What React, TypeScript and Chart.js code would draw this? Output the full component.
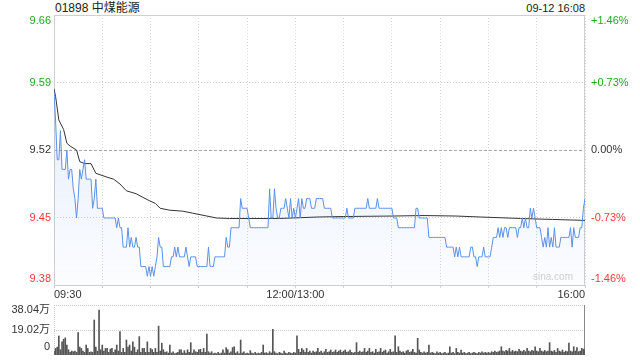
import React, { useEffect, useRef } from 'react';
import { Chart, registerables } from 'chart.js';
Chart.register(...registerables);

const stockTitle = '01898 中煤能源';
const stampText = '09-12 16:08';
const watermarkText = 'sina.com';

const priceMin = 9.381;
const priceMax = 9.659;
const priceTickValues = [9.659, 9.5895, 9.52, 9.4505, 9.381];
const priceTickLabels = ['9.66', '9.59', '9.52', '9.45', '9.38'];
const pctTickLabels = ['+1.46%', '+0.73%', '0.00%', '-0.73%', '-1.46%'];
const timeTickMinutes = [0, 150, 330];
const timeTickLabels = ['09:30', '12:00/13:00', '16:00'];
const volumeMax = 38.04;
const volumeTickValues = [38.04, 19.02, 0];
const volumeTickLabels = ['38.04万', '19.02万', '0'];

// price per minute, 09:30 .. 16:00 (330 trading minutes)
const prices = [
  9.58, 9.55, 9.51, 9.51, 9.54, 9.50, 9.50, 9.50, 9.52, 9.49,
  9.50, 9.50, 9.48, 9.47, 9.45, 9.47, 9.50, 9.49, 9.50, 9.51,
  9.49, 9.49, 9.49, 9.49, 9.46, 9.47, 9.49, 9.46, 9.46, 9.46,
  9.46, 9.45, 9.45, 9.45, 9.45, 9.45, 9.45, 9.45, 9.45, 9.44,
  9.45, 9.44, 9.44, 9.42, 9.42, 9.42, 9.44, 9.42, 9.43, 9.42,
  9.42, 9.43, 9.42, 9.42, 9.40, 9.40, 9.40, 9.40, 9.39, 9.40,
  9.39, 9.40, 9.39, 9.40, 9.41, 9.43, 9.42, 9.42, 9.40, 9.40,
  9.40, 9.40, 9.40, 9.41, 9.41, 9.42, 9.41, 9.42, 9.41, 9.41,
  9.41, 9.41, 9.42, 9.41, 9.40, 9.41, 9.41, 9.41, 9.41, 9.40,
  9.40, 9.40, 9.40, 9.40, 9.40, 9.40, 9.42, 9.40, 9.40, 9.40,
  9.41, 9.41, 9.41, 9.41, 9.41, 9.41, 9.41, 9.43, 9.42, 9.42,
  9.44, 9.44, 9.44, 9.44, 9.44, 9.44, 9.47, 9.46, 9.46, 9.46,
  9.46, 9.45, 9.44, 9.44, 9.44, 9.44, 9.44, 9.44, 9.44, 9.44,
  9.44, 9.44, 9.44, 9.44, 9.48, 9.45, 9.45, 9.48, 9.46, 9.45,
  9.45, 9.46, 9.46, 9.46, 9.47, 9.46, 9.45, 9.47, 9.45, 9.46,
  9.45, 9.46, 9.47, 9.45, 9.47, 9.46, 9.46, 9.47, 9.47, 9.47,
  9.46, 9.46, 9.46, 9.47, 9.47, 9.47, 9.47, 9.47, 9.46, 9.46,
  9.46, 9.46, 9.46, 9.45, 9.45, 9.45, 9.45, 9.45, 9.45, 9.45,
  9.45, 9.45, 9.46, 9.45, 9.45, 9.45, 9.45, 9.46, 9.46, 9.46,
  9.46, 9.46, 9.46, 9.46, 9.46, 9.47, 9.46, 9.46, 9.46, 9.46,
  9.46, 9.47, 9.46, 9.46, 9.46, 9.46, 9.46, 9.46, 9.46, 9.46,
  9.46, 9.45, 9.45, 9.45, 9.44, 9.44, 9.44, 9.44, 9.44, 9.44,
  9.44, 9.44, 9.44, 9.44, 9.44, 9.46, 9.46, 9.45, 9.45, 9.45,
  9.45, 9.45, 9.45, 9.43, 9.43, 9.43, 9.43, 9.43, 9.43, 9.43,
  9.43, 9.43, 9.43, 9.43, 9.42, 9.42, 9.42, 9.42, 9.42, 9.41,
  9.42, 9.41, 9.42, 9.41, 9.41, 9.41, 9.41, 9.41, 9.41, 9.42,
  9.42, 9.41, 9.41, 9.40, 9.41, 9.41, 9.41, 9.42, 9.41, 9.41,
  9.41, 9.41, 9.42, 9.43, 9.43, 9.43, 9.44, 9.43, 9.44, 9.43,
  9.44, 9.44, 9.43, 9.44, 9.44, 9.44, 9.44, 9.44, 9.43, 9.44,
  9.44, 9.45, 9.44, 9.45, 9.44, 9.44, 9.46, 9.45, 9.46, 9.45,
  9.44, 9.44, 9.44, 9.43, 9.42, 9.43, 9.42, 9.44, 9.42, 9.43,
  9.42, 9.44, 9.42, 9.42, 9.42, 9.43, 9.43, 9.43, 9.43, 9.43,
  9.43, 9.44, 9.42, 9.44, 9.43, 9.43, 9.43, 9.44, 9.44, 9.46,
  9.47,
];

// average price line (minute, price)
const avgMinutes = [0, 1, 3, 6, 8, 10, 14, 16, 19, 23, 26, 33, 37, 41, 45, 51, 59, 63, 66, 72, 80, 86, 95, 101, 109, 121, 140, 164, 180, 210, 230, 250, 265, 290, 310, 330];
const avgPrices = [9.583, 9.575, 9.551, 9.541, 9.527, 9.524, 9.52, 9.508, 9.506, 9.506, 9.496, 9.492, 9.49, 9.485, 9.478, 9.475, 9.468, 9.465, 9.46, 9.458, 9.457, 9.455, 9.452, 9.45, 9.4495, 9.4495, 9.4495, 9.451, 9.4515, 9.452, 9.4525, 9.452, 9.451, 9.4495, 9.4485, 9.4475];

// volume per minute (万股)
const volumes = [
  3, 5, 6, 14.5, 4, 10, 12, 13, 7.6, 4,
  2, 3, 2.5, 3, 2, 17, 6, 5, 3, 2,
  7.6, 5, 2, 2.5, 2, 26.6, 6, 3, 34.2, 4,
  7.6, 3, 5, 5, 2, 4.5, 5, 2, 4, 7.6,
  3, 17.8, 2, 5, 2, 11.4, 6, 7.6, 3, 10,
  6, 2, 4, 14, 2, 5, 5, 2, 10, 2,
  5, 4.2, 2, 5, 2, 22, 3, 9, 4, 2,
  2.5, 1.5, 7.6, 1.5, 2.5, 1, 1.5, 2, 4, 4,
  1.5, 3.3, 1.5, 4, 2, 9.4, 1.5, 4, 2.5, 2,
  4, 4.3, 2, 5, 2, 16, 2.5, 1.5, 2.5, 1,
  1.5, 1, 2, 1, 1.5, 4, 1.5, 5.6, 4, 1.5,
  2.5, 5.6, 6.3, 1.5, 2.5, 1, 11.4, 1.5, 2.5, 1,
  1.5, 1, 3.3, 1.5, 1, 2, 1, 1.5, 1, 2,
  7.6, 1.5, 1.8, 1, 2.5, 1.5, 19.5, 2.5, 1.5, 1,
  2, 1.5, 1, 3, 1.5, 1, 2, 1.5, 1, 2,
  1.5, 14.5, 4.3, 2, 5, 3.8, 2, 5, 2, 3,
  1.5, 3, 2, 2.5, 5, 2, 3, 1.5, 2.5, 4.3,
  2, 2.5, 3.8, 2, 2.5, 3.8, 2, 3, 3.8, 2,
  3, 3.8, 2, 2.5, 3.8, 2, 1.5, 2, 9.4, 2,
  3, 2, 2.5, 5, 2, 3, 5, 2, 2.5, 1.5,
  4.3, 2, 2.5, 5, 2, 3, 3.8, 1.5, 2.5, 4.3,
  2, 2.5, 14.5, 2, 6.3, 3, 2, 2.5, 1.5, 3,
  3.8, 2, 2.5, 4.3, 2, 1.5, 12.7, 3.8, 2, 1.5,
  2.5, 1.5, 2, 7.6, 1.5, 2, 1.5, 1, 2.5, 1.5,
  2, 1, 1.5, 2, 1, 1.5, 6.3, 1.5, 2, 1,
  5, 2, 1.5, 3.8, 1.5, 2, 1, 1.5, 2, 1,
  1.5, 2, 1.5, 1, 2, 1.5, 2.5, 1.5, 2, 1.5,
  2, 1.5, 2.5, 2, 3, 2, 2.5, 3, 6.3, 3,
  2.5, 3.5, 3, 5, 2.5, 3.5, 2.5, 3, 2.5, 4.3,
  3, 2.5, 3.5, 2.5, 5, 3, 2.5, 3.5, 3, 6.3,
  3, 2.5, 5, 3, 2.5, 3.5, 2.5, 3, 9.4, 3,
  2.5, 3.5, 2, 5, 3, 2.5, 3.8, 2, 3, 2.5,
  9, 3, 2.5, 6.3, 3, 5.6, 2.5, 3, 5, 4.5,
  4,
];

const FONT = '"Liberation Sans", Arial, "Noto Sans CJK SC", sans-serif';
const GREEN = '#23a623';
const RED = '#f03c3c';
const TEXT = '#333333';
const LINE_BLUE = '#5b91e8';

const priceColor = (i: number) => (i < 2 ? GREEN : i === 2 ? TEXT : RED);

const noEdgePadding = (s: any) => {
  s.paddingTop = 0;
  s.paddingBottom = 0;
};

const priceFrame = {
  id: 'priceFrame',
  beforeDatasetsDraw(chart: any) {
    const { ctx, chartArea: a } = chart;
    ctx.save();
    ctx.strokeStyle = '#cfcfcf';
    ctx.lineWidth = 1;
    ctx.setLineDash([]);
    ctx.strokeRect(Math.round(a.left) + 0.5, Math.round(a.top) + 0.5, Math.round(a.right - a.left) - 1, Math.round(a.bottom - a.top));
    ctx.restore();
  },
};

const volumeFrame = {
  id: 'volumeFrame',
  beforeDatasetsDraw(chart: any) {
    const { ctx, chartArea: a } = chart;
    ctx.save();
    ctx.lineWidth = 1;
    ctx.strokeStyle = '#cccccc';
    ctx.setLineDash([1, 1]);
    ctx.beginPath();
    ctx.moveTo(a.left, Math.round(a.top) + 0.5);
    ctx.lineTo(a.right, Math.round(a.top) + 0.5);
    ctx.moveTo(Math.round(a.left) + 0.5, a.top);
    ctx.lineTo(Math.round(a.left) + 0.5, a.bottom);
    ctx.stroke();
    ctx.setLineDash([]);
    ctx.strokeStyle = '#888888';
    ctx.beginPath();
    ctx.moveTo(Math.round(a.right) - 0.5, a.top);
    ctx.lineTo(Math.round(a.right) - 0.5, a.bottom);
    ctx.stroke();
    ctx.restore();
  },
};

export default function App() {
  const priceRef = useRef<HTMLCanvasElement | null>(null);
  const volRef = useRef<HTMLCanvasElement | null>(null);

  useEffect(() => {
    if (!priceRef.current || !volRef.current) return;
    const span = priceMax - priceMin;
    const labelShift = (span * 6) / 270;
    const shiftedPriceTicks = priceTickValues.map((v, i) =>
      i === 0 ? v - labelShift : i === priceTickValues.length - 1 ? v + labelShift : v
    );

    const priceChart = new Chart(priceRef.current, {
      type: 'line',
      data: {
        datasets: [
          {
            label: 'price',
            data: prices.map((p, i) => ({ x: i, y: p })),
            borderColor: LINE_BLUE,
            borderWidth: 1,
            pointRadius: 0,
            tension: 0,
            fill: 'start',
            backgroundColor: (c: any) => {
              const { chart } = c;
              const area = chart.chartArea;
              if (!area) return 'rgba(91,145,232,0.1)';
              const g = chart.ctx.createLinearGradient(0, area.top, 0, area.bottom);
              g.addColorStop(0, 'rgba(91,145,232,0.22)');
              g.addColorStop(1, 'rgba(91,145,232,0.02)');
              return g;
            },
            order: 1,
          },
          {
            label: 'avg',
            data: avgMinutes.map((m, i) => ({ x: m, y: avgPrices[i] })),
            borderColor: '#333333',
            borderWidth: 1,
            pointRadius: 0,
            tension: 0,
            fill: false,
            order: 2,
          },
        ],
      },
      options: {
        responsive: false,
        animation: false,
        events: [],
        layout: { padding: { top: 15, left: 0, right: 0, bottom: 0 } },
        plugins: { legend: { display: false }, tooltip: { enabled: false }, title: { display: false } },
        scales: {
          x: {
            type: 'linear',
            min: 0,
            max: 330,
            offset: false,
            afterBuildTicks: (s: any) => {
              const t = [];
              for (let m = 0; m <= 330; m += 30) t.push({ value: m });
              s.ticks = t;
            },
            afterFit: (s: any) => {
              s.height = 15;
              s.paddingLeft = 0;
              s.paddingRight = 0;
            },
            ticks: {
              autoSkip: false,
              maxRotation: 0,
              align: 'inner',
              padding: 0,
              color: TEXT,
              font: { family: FONT, size: 11 },
              callback: (v: any) => {
                const k = timeTickMinutes.indexOf(Number(v));
                return k >= 0 ? timeTickLabels[k] : '';
              },
            },
            grid: {
              color: '#d6d6d6',
              drawTicks: true,
              tickLength: 3,
              tickColor: '#d0d0d0',
            },
            border: { display: false, dash: [1, 2] },
          },
          y: {
            type: 'linear',
            position: 'left',
            min: priceMin,
            max: priceMax,
            afterBuildTicks: (s: any) => {
              s.ticks = shiftedPriceTicks.map((v) => ({ value: v }));
            },
            afterFit: (s: any) => {
              s.width = 54;
              noEdgePadding(s);
            },
            ticks: {
              padding: 3,
              font: { family: FONT, size: 11 },
              color: (c: any) => priceColor(c.index),
              callback: (_v: any, i: number) => priceTickLabels[i],
            },
            grid: {
              drawTicks: false,
              color: (c: any) =>
                c.index === 0 || c.index === priceTickValues.length - 1
                  ? 'rgba(0,0,0,0)'
                  : c.index === 2
                  ? '#aaaaaa'
                  : '#d0d0d0',
            },
            border: { display: false, dash: (c: any) => (c.index === 2 ? [3, 2] : [1, 2]) },
          },
          y2: {
            type: 'linear',
            position: 'right',
            min: priceMin,
            max: priceMax,
            afterBuildTicks: (s: any) => {
              s.ticks = shiftedPriceTicks.map((v) => ({ value: v }));
            },
            afterFit: (s: any) => {
              s.width = 55;
              noEdgePadding(s);
            },
            ticks: {
              padding: 6,
              font: { family: FONT, size: 11 },
              color: (c: any) => priceColor(c.index),
              callback: (_v: any, i: number) => pctTickLabels[i],
            },
            grid: { display: false, drawTicks: false },
            border: { display: false },
          },
        },
      },
      plugins: [priceFrame],
    } as any);

    const volShiftTop = (volumeMax * 5) / 50;
    const volShiftBottom = (volumeMax * 8) / 50;
    const shiftedVolTicks = volumeTickValues.map((v, i) =>
      i === 0 ? v - volShiftTop : i === volumeTickValues.length - 1 ? v + volShiftBottom : v
    );

    const volChart = new Chart(volRef.current, {
      type: 'bar',
      data: {
        datasets: [
          {
            label: 'volume',
            data: volumes.map((v, i) => ({ x: i, y: v })),
            backgroundColor: '#555555',
            barThickness: 1,
            grouped: false,
          },
        ],
      },
      options: {
        responsive: false,
        animation: false,
        events: [],
        layout: { padding: { top: 5, bottom: 5, left: 0, right: 55 } },
        plugins: { legend: { display: false }, tooltip: { enabled: false } },
        scales: {
          x: {
            type: 'linear',
            min: 0,
            max: 330,
            offset: false,
            display: false,
          },
          y: {
            type: 'linear',
            position: 'left',
            min: 0,
            max: volumeMax,
            afterBuildTicks: (s: any) => {
              s.ticks = shiftedVolTicks.map((v) => ({ value: v }));
            },
            afterFit: (s: any) => {
              s.width = 54;
              noEdgePadding(s);
            },
            ticks: {
              padding: 4,
              color: TEXT,
              font: { family: FONT, size: 11 },
              callback: (_v: any, i: number) => volumeTickLabels[i],
            },
            grid: {
              drawTicks: false,
              color: (c: any) => (c.index === 1 ? '#cccccc' : 'rgba(0,0,0,0)'),
            },
            border: { display: false, dash: [1, 1] },
          },
        },
      },
      plugins: [volumeFrame],
    } as any);

    return () => {
      priceChart.destroy();
      volChart.destroy();
    };
  }, []);

  return (
    <div style={{ position: 'fixed', left: 0, top: 0, width: 640, height: 360, background: '#ffffff', overflow: 'hidden' }}>
      <div style={{ position: 'absolute', left: 55, top: 1, font: `12px ${FONT}`, lineHeight: '14px', color: '#222', whiteSpace: 'nowrap' }}>
        {stockTitle}
      </div>
      <div style={{ position: 'absolute', right: 55, top: 2, font: `11px ${FONT}`, lineHeight: '13px', color: '#222', whiteSpace: 'nowrap' }}>
        {stampText}
      </div>
      <canvas ref={priceRef} width={640} height={300} style={{ position: 'absolute', left: 0, top: 0, width: 640, height: 300 }} />
      <canvas ref={volRef} width={640} height={60} style={{ position: 'absolute', left: 0, top: 300, width: 640, height: 60 }} />
      <div style={{ position: 'absolute', left: 533, top: 271, font: `10px ${FONT}`, lineHeight: '12px', color: '#cfcfcf', whiteSpace: 'nowrap' }}>
        {watermarkText}
      </div>
    </div>
  );
}
